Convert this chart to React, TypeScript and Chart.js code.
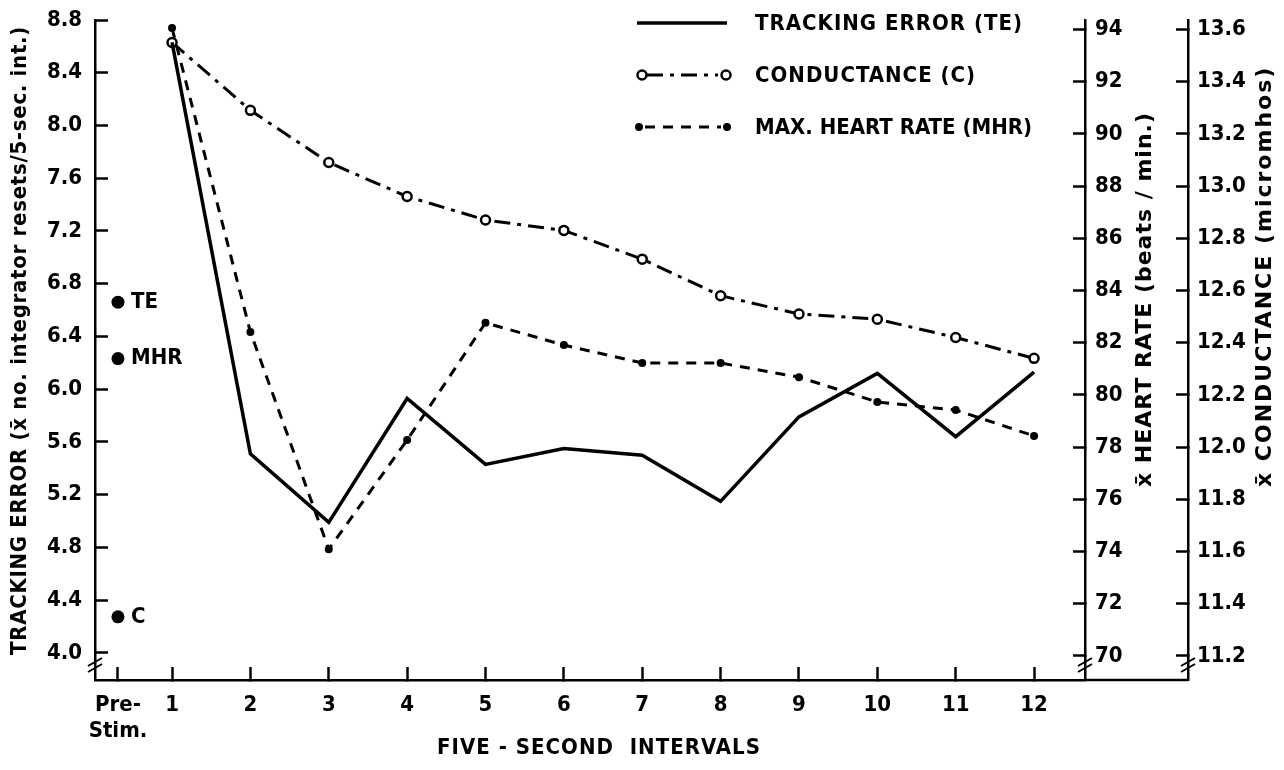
import React, { useEffect, useRef } from 'react';
import { Chart, registerables } from 'chart.js';

Chart.register(...registerables);

const FONT = "'DejaVu Sans Condensed', 'DejaVu Sans', sans-serif";
const WIDE_FONT = "'DejaVu Sans', sans-serif";

// ---- data ----
const intervals = [1, 2, 3, 4, 5, 6, 7, 8, 9, 10, 11, 12];
const preStimPosition = 0.31;
const xTickValues = [0.31, 1, 2, 3, 4, 5, 6, 7, 8, 9, 10, 11, 12];
const xTickLabels: (string | string[])[] = [['Pre-', 'Stim.'], '1', '2', '3', '4', '5', '6', '7', '8', '9', '10', '11', '12'];

const trackingError = [8.63, 5.51, 4.99, 5.93, 5.43, 5.55, 5.5, 5.15, 5.79, 6.12, 5.64, 6.13];
const conductance = [13.55, 13.29, 13.09, 12.96, 12.87, 12.83, 12.72, 12.58, 12.51, 12.49, 12.42, 12.34];
const maxHeartRate = [94.05, 82.41, 74.09, 78.27, 82.76, 81.91, 81.22, 81.22, 80.68, 79.73, 79.42, 78.43];

const preStimTE = 6.66;
const preStimMHR = 81.39;
const preStimC = 11.35;
const preStimLabels = ['TE', 'MHR', 'C'];

const teTicks = [4.0, 4.4, 4.8, 5.2, 5.6, 6.0, 6.4, 6.8, 7.2, 7.6, 8.0, 8.4, 8.8];
const hrTicks = [70, 72, 74, 76, 78, 80, 82, 84, 86, 88, 90, 92, 94];
const condTicks = [11.2, 11.4, 11.6, 11.8, 12.0, 12.2, 12.4, 12.6, 12.8, 13.0, 13.2, 13.4, 13.6];

const legendLabels = ['TRACKING ERROR (TE)', 'CONDUCTANCE (C)', 'MAX. HEART RATE (MHR)'];
const legendSpacing = ['1px', '1px', '0px'];
const xTitle = 'FIVE - SECOND  INTERVALS';
const teTitle = 'TRACKING ERROR (x\u0304 no. integrator resets/5-sec. int.)';
const hrTitle = 'x\u0304 HEART RATE (beats / min.)';
const condTitle = 'x\u0304 CONDUCTANCE (micromhos)';

const C_DASH = [16, 7, 4, 7];
const MHR_DASH = [10, 8];

const decorPlugin = {
  id: 'decor',
  afterDraw(chart: any) {
    const ctx = chart.ctx as any;
    const area = chart.chartArea;
    const yHR = chart.scales.yHR;
    const yC = chart.scales.yC;
    const yTE = chart.scales.yTE;
    ctx.save();
    ctx.strokeStyle = '#000';
    ctx.fillStyle = '#000';

    // extend baseline to the conductance axis
    ctx.lineWidth = 2.5;
    ctx.beginPath();
    ctx.moveTo(area.right, area.bottom);
    ctx.lineTo(yC.left, area.bottom);
    ctx.stroke();

    // axis breaks
    const breakY = area.bottom - 15;
    ctx.lineWidth = 2;
    [yTE.right, yHR.left, yC.left].forEach((bx: number) => {
      [-3, 3].forEach((d) => {
        ctx.beginPath();
        ctx.moveTo(bx - 7, breakY + d + 4);
        ctx.lineTo(bx + 7, breakY + d - 4);
        ctx.stroke();
      });
    });

    const rot = (t: string, x: number, y: number, align: string) => {
      ctx.save();
      ctx.translate(x, y);
      ctx.rotate(-Math.PI / 2);
      ctx.textAlign = align;
      ctx.fillText(t, 0, 0);
      ctx.restore();
    };
    ctx.textBaseline = 'middle';

    // left axis title
    ctx.font = `bold 22px ${FONT}`;
    ctx.letterSpacing = '0.7px';
    rot(teTitle, 20, 655, 'left');

    // right axis titles (reading bottom to top)
    ctx.font = `bold 22px ${WIDE_FONT}`;
    ctx.letterSpacing = '1px';
    rot(hrTitle, yHR.left + 60, 487, 'left');
    ctx.letterSpacing = '2px';
    rot(condTitle, yC.left + 77, 487, 'left');

    // x axis title
    ctx.font = `bold 22px ${FONT}`;
    ctx.letterSpacing = '1px';
    ctx.textAlign = 'center';
    ctx.fillText(xTitle, 599, 748);

    // pre-stim point labels
    ctx.letterSpacing = '0px';
    ctx.textAlign = 'left';
    ctx.font = `bold 22px ${FONT}`;
    [3, 4, 5].forEach((di, k) => {
      const pt = chart.getDatasetMeta(di).data[0];
      if (pt) ctx.fillText(preStimLabels[k], pt.x + 13, pt.y);
    });

    // legend
    const lx0 = 637;
    const lx1 = 727;
    const rows = [23, 75, 127];
    ctx.lineWidth = 3.5;
    ctx.setLineDash([]);
    ctx.beginPath();
    ctx.moveTo(lx0, rows[0]);
    ctx.lineTo(lx1, rows[0]);
    ctx.stroke();

    ctx.lineWidth = 3;
    ctx.setLineDash(C_DASH);
    ctx.beginPath();
    ctx.moveTo(lx0 + 10, rows[1]);
    ctx.lineTo(lx1 - 9, rows[1]);
    ctx.stroke();
    ctx.setLineDash([]);
    [lx0 + 5, lx1 - 1].forEach((cx) => {
      ctx.beginPath();
      ctx.arc(cx, rows[1], 4.5, 0, Math.PI * 2);
      ctx.fillStyle = '#fff';
      ctx.fill();
      ctx.lineWidth = 2.5;
      ctx.stroke();
    });
    ctx.fillStyle = '#000';

    ctx.lineWidth = 3;
    ctx.setLineDash(MHR_DASH);
    ctx.beginPath();
    ctx.moveTo(lx0 + 8, rows[2]);
    ctx.lineTo(lx1 - 6, rows[2]);
    ctx.stroke();
    ctx.setLineDash([]);
    [lx0 + 2, lx1].forEach((cx) => {
      ctx.beginPath();
      ctx.arc(cx, rows[2], 4, 0, Math.PI * 2);
      ctx.fill();
    });

    ctx.font = `bold 22px ${FONT}`;
    legendLabels.forEach((t, i) => {
      ctx.letterSpacing = legendSpacing[i];
      ctx.fillText(t, 755, rows[i] + 1);
    });
    ctx.restore();
  },
};

const tickFont = { family: FONT, size: 22, weight: 'bold' as const };

const fitWidth = (w: number) => (s: any) => {
  s.width = w;
  s.paddingTop = 0;
  s.paddingBottom = 0;
};

export default function App() {
  const ref = useRef<HTMLCanvasElement | null>(null);
  useEffect(() => {
    if (!ref.current) return;
    Chart.defaults.color = '#000';
    const chart = new Chart(ref.current, {
      type: 'line',
      data: {
        datasets: [
          {
            label: legendLabels[0],
            data: intervals.map((x, i) => ({ x, y: trackingError[i] })),
            yAxisID: 'yTE',
            borderColor: '#000',
            borderWidth: 3.5,
            pointRadius: 0,
            tension: 0,
          },
          {
            label: legendLabels[1],
            data: intervals.map((x, i) => ({ x, y: conductance[i] })),
            yAxisID: 'yC',
            borderColor: '#000',
            borderWidth: 3,
            borderDash: C_DASH,
            pointRadius: 4.5,
            pointBorderWidth: 2.5,
            pointBackgroundColor: '#fff',
            pointBorderColor: '#000',
            tension: 0,
          },
          {
            label: legendLabels[2],
            data: intervals.map((x, i) => ({ x, y: maxHeartRate[i] })),
            yAxisID: 'yHR',
            borderColor: '#000',
            borderWidth: 3,
            borderDash: MHR_DASH,
            pointRadius: 4,
            pointBorderWidth: 0,
            pointBackgroundColor: '#000',
            tension: 0,
          },
          {
            label: 'TE pre',
            data: [{ x: preStimPosition, y: preStimTE }],
            yAxisID: 'yTE',
            showLine: false,
            pointRadius: 6.5,
            pointBorderWidth: 0,
            pointBackgroundColor: '#000',
          },
          {
            label: 'MHR pre',
            data: [{ x: preStimPosition, y: preStimMHR }],
            yAxisID: 'yHR',
            showLine: false,
            pointRadius: 6.5,
            pointBorderWidth: 0,
            pointBackgroundColor: '#000',
          },
          {
            label: 'C pre',
            data: [{ x: preStimPosition, y: preStimC }],
            yAxisID: 'yC',
            showLine: false,
            pointRadius: 6.5,
            pointBorderWidth: 0,
            pointBackgroundColor: '#000',
          },
        ],
      },
      options: {
        animation: false,
        responsive: false,
        layout: { padding: { top: 20, left: 0, right: 0, bottom: 0 } },
        plugins: { legend: { display: false }, tooltip: { enabled: false } },
        scales: {
          x: {
            type: 'linear',
            position: 'bottom',
            min: 0.017,
            max: 12.65,
            afterBuildTicks: (s: any) => {
              s.ticks = xTickValues.map((v) => ({ value: v }));
            },
            afterFit: (s: any) => {
              s.height = 90;
              s.paddingLeft = 0;
              s.paddingRight = 0;
            },
            grid: { drawOnChartArea: false, drawTicks: true, tickLength: -13, tickColor: '#000', tickWidth: 2.5 },
            border: { display: true, color: '#000', width: 2.5 },
            ticks: {
              autoSkip: false,
              maxRotation: 0,
              padding: 26,
              font: { ...tickFont, lineHeight: 1.15 },
              color: '#000',
              callback: (_v: any, i: number) => xTickLabels[i],
            },
          },
          yTE: {
            type: 'linear',
            position: 'left',
            min: 3.795,
            max: 8.8,
            afterBuildTicks: (s: any) => {
              s.ticks = teTicks.map((v) => ({ value: v }));
            },
            afterFit: fitWidth(95),
            grid: { drawOnChartArea: false, drawTicks: true, tickLength: -13, tickColor: '#000', tickWidth: 2.5 },
            border: { display: true, color: '#000', width: 2.5 },
            ticks: {
              autoSkip: false,
              padding: 26,
              font: tickFont,
              color: '#000',
              callback: (v: any) => Number(v).toFixed(1),
            },
          },
          yHR: {
            type: 'linear',
            position: 'right',
            weight: 0,
            min: 69.08,
            max: 94.36,
            afterBuildTicks: (s: any) => {
              s.ticks = hrTicks.map((v) => ({ value: v }));
            },
            afterFit: fitWidth(103),
            grid: { drawOnChartArea: false, drawTicks: true, tickLength: -12, tickColor: '#000', tickWidth: 2.5 },
            border: { display: true, color: '#000', width: 2.5 },
            ticks: {
              autoSkip: false,
              padding: 22,
              font: tickFont,
              color: '#000',
              callback: (v: any) => String(v),
            },
          },
          yC: {
            type: 'linear',
            position: 'right',
            weight: 1,
            min: 11.108,
            max: 13.636,
            afterBuildTicks: (s: any) => {
              s.ticks = condTicks.map((v) => ({ value: v }));
            },
            afterFit: fitWidth(96),
            grid: { drawOnChartArea: false, drawTicks: true, tickLength: -12, tickColor: '#000', tickWidth: 2.5 },
            border: { display: true, color: '#000', width: 2.5 },
            ticks: {
              autoSkip: false,
              padding: 21,
              font: tickFont,
              color: '#000',
              callback: (v: any) => Number(v).toFixed(1),
            },
          },
        },
      } as any,
      plugins: [decorPlugin],
    });
    return () => chart.destroy();
  }, []);

  return (
    <div style={{ position: 'fixed', left: 0, top: 0, width: 1284, height: 770, background: '#fff' }}>
      <canvas ref={ref} width={1284} height={770} style={{ display: 'block' }} />
    </div>
  );
}
